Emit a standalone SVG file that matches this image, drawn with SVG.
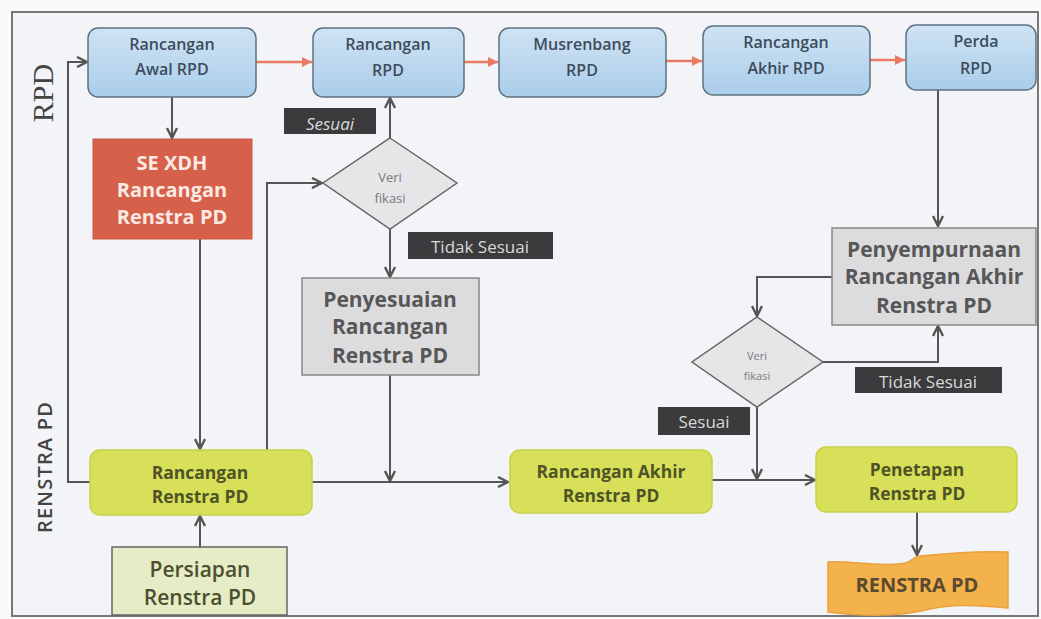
<svg xmlns="http://www.w3.org/2000/svg" width="1041" height="619" viewBox="0 0 1041 619">
<defs>
<linearGradient id="blue" x1="0" y1="0" x2="0" y2="1">
<stop offset="0" stop-color="#cfe3f3"/><stop offset="1" stop-color="#aacdea"/>
</linearGradient>
<marker id="ag" viewBox="0 0 12 12" refX="11" refY="6" markerWidth="12" markerHeight="12" markerUnits="userSpaceOnUse" orient="auto">
<path d="M1,1 L11,6 L1,11" fill="none" stroke="#555" stroke-width="2.4"/>
</marker>
<marker id="ar" viewBox="0 0 12 12" refX="11" refY="6" markerWidth="12" markerHeight="12" markerUnits="userSpaceOnUse" orient="auto">
<path d="M1,1 L11,6 L1,11 Z" fill="#ea7a62"/>
</marker>
<style>
.frame{fill:#f3f4f7;stroke:#777;stroke-width:2}
.blue{fill:url(#blue);stroke:#5d7282;stroke-width:1.5}
.bt{font-family:"Open Sans","Noto Sans",sans-serif;font-size:16px;font-weight:600;fill:#3d4c5c;text-anchor:middle}
.red{fill:#d6604a;stroke:#c85a44;stroke-width:1}
.rt{font-family:"Open Sans","Noto Sans",sans-serif;font-size:20px;font-weight:700;fill:#fbe9e4;text-anchor:middle}
.yg{fill:#d8e05a;stroke:#c8d048;stroke-width:1.5}
.yt{font-family:"Open Sans","Noto Sans",sans-serif;font-size:17.5px;font-weight:700;fill:#4f5426;text-anchor:middle}
.lg{fill:#e6edc6;stroke:#666;stroke-width:1.5}
.lt{font-family:"Open Sans","Noto Sans",sans-serif;font-size:21px;font-weight:600;fill:#4c5030;text-anchor:middle}
.gray{fill:#dcdcde;stroke:#888;stroke-width:1.5}
.gt{font-family:"Open Sans","Noto Sans",sans-serif;font-size:21px;font-weight:700;fill:#575757;text-anchor:middle}
.dia{fill:#e6e6e8;stroke:#666;stroke-width:1.5}
.dt{font-family:"Open Sans","Noto Sans",sans-serif;fill:#7a7a7a;text-anchor:middle}
.lab{fill:#3b3b3d}
.labt{font-family:"Open Sans","Noto Sans",sans-serif;font-size:17px;fill:#d8d8d8;text-anchor:middle}
.c{fill:none;stroke:#555;stroke-width:2}
.cr{fill:none;stroke:#ea7a62;stroke-width:2.5}
.doc{fill:#f4b24c;stroke:#e9a23e;stroke-width:1.5}
.dct{font-family:"Open Sans","Noto Sans",sans-serif;font-size:20px;font-weight:700;fill:#5a4a30;text-anchor:middle}
</style>
</defs>
<rect width="1041" height="619" fill="#fafafa"/>
<rect class="frame" x="12" y="12" width="1026" height="604"/>
<g id="lanes">
<text transform="translate(53,93) rotate(-90)" font-family="Liberation Serif,serif" font-size="30" fill="#444" text-anchor="middle">RPD</text>
<text transform="translate(52,467) rotate(-90)" font-family="Open Sans,Noto Sans,sans-serif" font-size="20" font-weight="600" letter-spacing="1.2" fill="#444" text-anchor="middle">RENSTRA PD</text>
</g>
<g id="connectors">
<path class="cr" d="M256,62 H312" marker-end="url(#ar)"/>
<path class="cr" d="M464,62 H498" marker-end="url(#ar)"/>
<path class="cr" d="M666,61 H702" marker-end="url(#ar)"/>
<path class="cr" d="M870,60 H905" marker-end="url(#ar)"/>
<path class="c" d="M172,97 V138" marker-end="url(#ag)"/>
<path class="c" d="M90,482 H68 V62 H87" marker-end="url(#ag)"/>
<path class="c" d="M200,239 V449" marker-end="url(#ag)"/>
<path class="c" d="M200,547 V516" marker-end="url(#ag)"/>
<path class="c" d="M267,450 V183 H322" marker-end="url(#ag)"/>
<path class="c" d="M390,138 V98" marker-end="url(#ag)"/>
<path class="c" d="M390,229 V277" marker-end="url(#ag)"/>
<path class="c" d="M390,375 V481" marker-end="url(#ag)"/>
<path class="c" d="M312,482 H508" marker-end="url(#ag)"/>
<path class="c" d="M712,480 H815" marker-end="url(#ag)"/>
<path class="c" d="M917,512 V555" marker-end="url(#ag)"/>
<path class="c" d="M938,90 V226" marker-end="url(#ag)"/>
<path class="c" d="M832,277 H757 V316" marker-end="url(#ag)"/>
<path class="c" d="M823,362 H938 V326" marker-end="url(#ag)"/>
<path class="c" d="M757,407 V479" marker-end="url(#ag)"/>
</g>
<g id="awal-rpd"><rect class="blue" x="88" y="28" width="168" height="69" rx="10"/><text class="bt" x="172" y="50">Rancangan</text><text class="bt" x="172" y="75">Awal RPD</text></g>
<g id="rancangan-rpd"><rect class="blue" x="313" y="28" width="151" height="69" rx="10"/><text class="bt" x="388" y="50">Rancangan</text><text class="bt" x="388" y="76">RPD</text></g>
<g id="musrenbang-rpd"><rect class="blue" x="499" y="28" width="167" height="69" rx="10"/><text class="bt" x="582" y="50">Musrenbang</text><text class="bt" x="582" y="76">RPD</text></g>
<g id="akhir-rpd"><rect class="blue" x="703" y="26" width="167" height="69" rx="10"/><text class="bt" x="786" y="48">Rancangan</text><text class="bt" x="786" y="74">Akhir RPD</text></g>
<g id="perda-rpd"><rect class="blue" x="906" y="25" width="130" height="65" rx="10"/><text class="bt" x="976" y="47">Perda</text><text class="bt" x="976" y="74">RPD</text></g>
<g id="se-xdh"><rect class="red" x="93" y="139" width="159" height="100"/><text class="rt" x="172" y="170">SE XDH</text><text class="rt" x="172" y="197">Rancangan</text><text class="rt" x="172" y="224">Renstra PD</text></g>
<g id="verifikasi-1"><polygon class="dia" points="390,138 457,183 390,229 323,183"/><text class="dt" font-size="13" x="390" y="182">Veri</text><text class="dt" font-size="13" x="390" y="203">fikasi</text></g>
<g id="label-sesuai-1"><rect class="lab" x="284" y="108" width="92" height="26"/><text class="labt" font-size="18" x="330" y="130" font-style="italic">Sesuai</text></g>
<g id="label-tidak-1"><rect class="lab" x="408" y="232" width="145" height="27"/><text class="labt" x="480" y="253">Tidak Sesuai</text></g>
<g id="penyesuaian"><rect class="gray" x="302" y="278" width="177" height="97"/><text class="gt" x="390" y="307">Penyesuaian</text><text class="gt" x="390" y="334">Rancangan</text><text class="gt" x="390" y="363">Renstra PD</text></g>
<g id="rancangan-renstra"><rect class="yg" x="90" y="450" width="222" height="65" rx="10"/><text class="yt" x="200" y="479">Rancangan</text><text class="yt" x="200" y="503">Renstra PD</text></g>
<g id="persiapan"><rect class="lg" x="112" y="547" width="175" height="68"/><text class="lt" x="200" y="577">Persiapan</text><text class="lt" x="200" y="605">Renstra PD</text></g>
<g id="akhir-renstra"><rect class="yg" x="510" y="450" width="202" height="63" rx="10"/><text class="yt" x="611" y="478">Rancangan Akhir</text><text class="yt" x="611" y="502">Renstra PD</text></g>
<g id="penetapan"><rect class="yg" x="816" y="447" width="201" height="65" rx="10"/><text class="yt" x="917" y="476">Penetapan</text><text class="yt" x="917" y="500">Renstra PD</text></g>
<g id="renstra-doc"><path class="doc" d="M828,562 C850,560 880,568 905,563 C912,561 915,556 920,556 C950,553 985,551 1008,552 L1008,608 C985,606 955,603 930,609 C900,617 860,616 828,612 Z"/><text class="dct" x="917" y="592">RENSTRA PD</text></g>
<g id="penyempurnaan"><rect class="gray" x="832" y="228" width="204" height="97"/><text class="gt" x="934" y="257">Penyempurnaan</text><text class="gt" x="934" y="284">Rancangan Akhir</text><text class="gt" x="934" y="313">Renstra PD</text></g>
<g id="verifikasi-2"><polygon class="dia" points="757,317 823,362 757,407 692,362"/><text class="dt" font-size="11" x="757" y="360">Veri</text><text class="dt" font-size="11" x="757" y="380">fikasi</text></g>
<g id="label-tidak-2"><rect class="lab" x="855" y="367" width="147" height="26"/><text class="labt" x="928" y="388">Tidak Sesuai</text></g>
<g id="label-sesuai-2"><rect class="lab" x="658" y="407" width="92" height="28"/><text class="labt" font-size="18" x="704" y="428">Sesuai</text></g>
</svg>
